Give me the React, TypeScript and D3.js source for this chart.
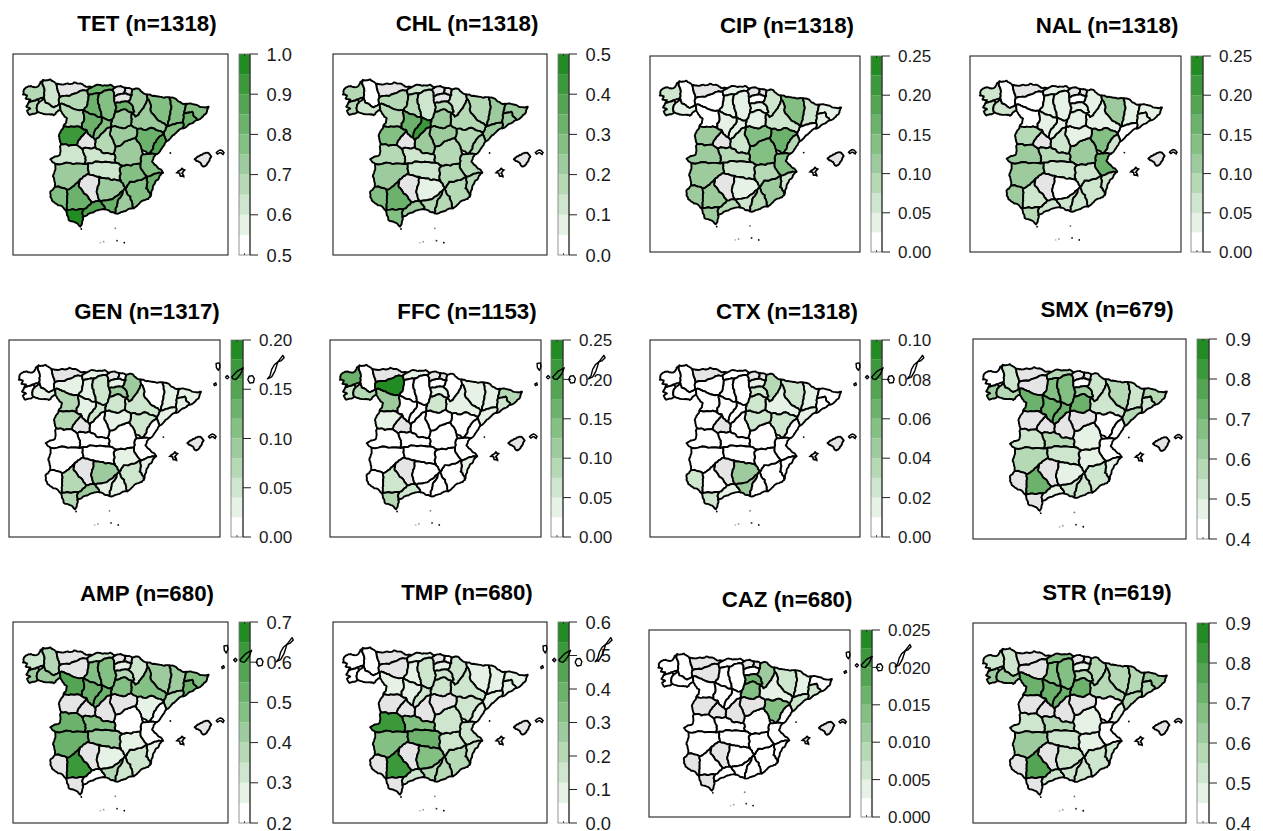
import React from "react";
import * as d3 from "d3";

const PROVINCES: [string, number[][]][] = [
  ["Coruna", [[70,272],[78,262],[92,258],[104,262],[116,256],[120,246],[128,240],[132,265],[130,292],[112,298],[85,308],[90,298],[76,296],[80,286],[68,284]]],
  ["Lugo", [[128,240],[150,238],[168,252],[172,272],[178,292],[178,312],[160,322],[135,308],[130,292],[132,265]]],
  ["Pontevedra", [[85,308],[112,298],[118,305],[110,320],[112,335],[88,345],[80,332],[90,326],[78,320]]],
  ["Ourense", [[110,320],[118,305],[130,292],[135,308],[160,322],[178,312],[180,330],[160,346],[135,343],[112,335]]],
  ["Asturias", [[168,252],[195,252],[222,247],[250,256],[275,262],[262,270],[235,276],[178,292],[172,272]]],
  ["Leon", [[178,292],[235,276],[262,270],[265,285],[262,310],[250,330],[200,318],[178,312]]],
  ["Zamora", [[178,312],[200,318],[250,330],[245,385],[215,380],[190,378],[200,355],[180,330]]],
  ["Cantabria", [[275,262],[300,255],[330,254],[345,262],[336,270],[297,280],[265,285],[262,270]]],
  ["Palencia", [[265,285],[297,280],[293,305],[300,330],[305,352],[270,342],[250,330],[262,310]]],
  ["Burgos", [[297,280],[336,270],[342,290],[345,310],[345,335],[335,360],[305,352],[300,330],[293,305]]],
  ["Bizkaia", [[345,262],[362,258],[375,263],[372,280],[350,285],[342,290],[336,270]]],
  ["Gipuzkoa", [[375,263],[395,268],[395,285],[372,280]]],
  ["Alava", [[342,290],[350,285],[372,280],[395,285],[385,305],[365,305],[345,310]]],
  ["Rioja", [[345,310],[365,305],[385,305],[402,335],[395,340],[370,328],[345,335]]],
  ["Navarra", [[395,268],[410,265],[440,283],[442,297],[432,318],[405,350],[395,340],[402,335],[385,305],[395,285]]],
  ["Huesca", [[440,283],[475,290],[508,292],[510,335],[500,378],[470,358],[450,330],[442,297]]],
  ["Lleida", [[508,292],[535,305],[560,312],[552,340],[548,368],[500,378],[510,335]]],
  ["Girona", [[560,312],[590,315],[625,320],[618,340],[590,360],[575,335],[552,340]]],
  ["Barcelona", [[552,340],[575,335],[590,360],[548,385],[548,368]]],
  ["Tarragona", [[500,378],[548,368],[548,385],[525,400],[510,415],[497,425],[490,400]]],
  ["Zaragoza", [[442,297],[450,330],[470,358],[500,378],[490,400],[460,385],[410,388],[392,375],[395,340],[405,350],[432,318]]],
  ["Teruel", [[410,388],[460,385],[490,400],[462,430],[445,462],[425,450],[405,415]]],
  ["Castellon", [[490,400],[497,425],[470,462],[445,462],[462,430]]],
  ["Valencia", [[428,462],[445,462],[470,462],[455,485],[488,518],[440,530],[420,490]]],
  ["Alicante", [[440,530],[488,518],[465,545],[450,590],[437,565]]],
  ["Murcia", [[440,530],[437,565],[450,590],[435,600],[400,625],[390,590],[375,565],[388,545]]],
  ["Albacete", [[365,497],[420,490],[440,530],[388,545],[375,565],[362,545],[358,510]]],
  ["Cuenca", [[345,440],[385,420],[405,415],[425,450],[428,462],[420,490],[365,497],[345,488],[345,470],[340,462]]],
  ["Guadalajara", [[332,380],[360,383],[392,375],[410,388],[405,415],[385,420],[345,440],[335,415]]],
  ["Madrid", [[285,420],[300,405],[332,380],[335,415],[345,440],[340,462],[310,460],[285,442]]],
  ["Segovia", [[305,352],[335,360],[332,380],[300,405],[285,420],[278,412],[282,395],[300,372]]],
  ["Soria", [[335,360],[345,335],[370,328],[395,340],[392,375],[360,383],[332,380]]],
  ["Valladolid", [[250,330],[270,342],[305,352],[300,372],[282,395],[278,412],[258,390],[245,385]]],
  ["Avila", [[230,435],[258,390],[278,412],[285,420],[285,442],[245,447]]],
  ["Salamanca", [[190,378],[215,380],[245,385],[258,390],[230,435],[182,432],[178,400]]],
  ["Toledo", [[245,447],[285,442],[310,460],[340,462],[345,470],[345,488],[265,490],[250,492],[255,470]]],
  ["Caceres", [[150,478],[178,465],[182,432],[230,435],[245,447],[255,470],[250,492],[165,492]]],
  ["Badajoz", [[165,492],[250,492],[265,490],[265,522],[238,540],[200,570],[165,560],[158,530],[165,510]]],
  ["CiudadReal", [[265,490],[345,488],[365,497],[358,510],[362,545],[320,535],[300,532],[265,522]]],
  ["Cordoba", [[265,522],[300,532],[290,570],[302,605],[275,607],[250,580],[235,555],[238,540]]],
  ["Jaen", [[300,532],[320,535],[362,545],[375,565],[345,590],[302,605],[290,570]]],
  ["Huelva", [[165,560],[200,570],[200,620],[198,632],[165,610],[150,590],[150,575]]],
  ["Sevilla", [[200,570],[238,540],[235,555],[250,580],[275,607],[250,628],[198,632],[200,620]]],
  ["Cadiz", [[198,632],[250,628],[247,652],[240,680],[205,660]]],
  ["Malaga", [[250,628],[275,607],[302,605],[315,628],[282,635],[247,652]]],
  ["Granada", [[302,605],[345,590],[375,565],[352,610],[345,640],[315,628]]],
  ["Almeria", [[375,565],[390,590],[400,625],[380,630],[345,640],[352,610]]],
  ["Baleares", [[583,478],[600,465],[622,458],[633,470],[625,485],[610,500],[595,485]]],
];

const MENORCA = [[648,458],[660,450],[671,458],[668,463],[658,458],[652,462]];
const IBIZA = [[530,518],[545,505],[553,510],[545,520],[550,530],[540,528],[538,520]];
const CANARIES = [
  [[671,234],[681,232],[683,244],[678,255],[672,247]],
  [[664,297],[670,293],[672,299],[666,302]],
  [[700,276],[705,271],[710,276],[705,281]],
  [[719,275],[736,257],[754,247],[746,266],[732,283],[722,281]],
  [[768,283],[772,273],[782,271],[788,280],[785,292],[774,294]],
  [[828,281],[841,275],[851,257],[860,229],[849,238],[841,252],[836,271]],
  [[860,229],[875,209],[879,216],[869,226]],
];
const DOTS: [number, number, string][] = [
  [510,459,"#000"],[243,687,"#000"],[345,685,"#777"],[300,728,"#bbb"],[310,725,"#999"],[350,722,"#222"],[372,728,"#000"],
];

const NA = null;
// Province order follows PROVINCES.
const TET = [.68,.63,.68,.63,NA,.68,.68,.83,.83,.78,NA,NA,NA,.83,.73,.78,.78,.78,.83,.78,.73,.83,.88,.78,.83,.78,.78,.73,.73,.68,.78,.73,.83,NA,.93,.63,.63,.73,.63,NA,.73,.78,.83,.98,.88,.83,.73,NA];
const CHL = [.18,.03,.18,.13,NA,.18,.18,.13,.18,.13,NA,NA,NA,.18,.13,.18,.23,.23,.23,.23,.18,.18,.18,.18,.18,.18,.18,.18,.23,.23,.43,.23,.33,NA,.28,.13,.18,.23,.13,NA,.08,.28,.33,.28,.23,.18,.18,NA];
const CIP = [.062,.012,.062,.037,NA,.012,.012,.037,.037,.037,NA,NA,.012,.037,.062,.137,.062,.037,.037,.012,.062,.162,.087,.137,.062,.112,.087,.137,.137,.062,.037,.037,.037,NA,.112,.087,.112,.112,.062,NA,.037,.112,.112,.112,.087,.062,.087,NA];
const NAL = [.062,.012,.062,.062,NA,.012,.012,.037,.037,.037,NA,NA,.012,.037,.037,.112,.037,.037,.037,.012,.037,.137,.062,.162,.062,.062,.062,.112,.037,.062,.037,.037,.037,NA,.087,.087,.112,.112,.062,NA,.012,.112,.062,.087,.062,.062,.062,NA];
const GEN = [.01,.01,.01,.03,NA,.03,.07,.03,.03,.05,NA,.01,.03,.09,.09,.01,.03,.03,.03,.03,.05,.05,.01,.01,.03,.05,.03,.01,.03,.01,.05,.05,.03,NA,.07,.01,.01,.01,.01,NA,.09,.01,.07,.07,.09,.03,.03,NA];
const FFC = [.162,.012,.062,.087,NA,.237,.112,.037,.012,.012,NA,NA,.012,.037,.012,.037,.037,.087,.062,.037,.037,.012,.012,.012,.037,.012,.012,.012,.012,.012,.012,.062,.012,NA,.037,.012,.012,.012,.012,NA,.012,.012,.062,.087,.062,.012,.012,NA];
const CTX = [.005,.005,.005,.005,NA,.005,.005,.005,.005,.005,NA,NA,.015,.025,.035,.025,.015,.005,.005,.015,.015,.025,.005,.005,.005,.005,.005,.005,.025,.005,.005,.025,.005,NA,.005,.005,.005,.005,.005,NA,.045,.025,.005,.025,.015,.045,.005,NA];
const SMX = [.43,.53,.63,.58,NA,NA,.73,.58,.68,.68,NA,NA,.43,.63,.53,.58,.53,.58,.53,.58,.53,.43,.43,.43,.48,.53,.48,.48,NA,NA,.73,.73,.73,NA,NA,.58,.53,.58,.53,NA,.48,NA,.73,NA,.48,.53,.53,NA];
const AMP = [.33,.38,.43,.43,NA,NA,.58,.33,.48,.48,NA,NA,.28,.38,.33,.43,.43,.48,.53,.38,.48,.28,.23,.23,.28,.33,.28,.23,NA,NA,.53,.48,.53,NA,NA,.48,.53,.53,.43,NA,.28,NA,.63,NA,.23,.38,.33,NA];
const TMP = [.03,.03,.03,.03,NA,NA,.09,.09,.09,.15,NA,.03,.09,.15,.15,.09,.09,.09,.09,.09,.15,.15,.09,.15,.15,.21,.15,.15,NA,NA,.15,.15,.09,NA,NA,.33,.51,.33,.39,NA,.33,NA,.51,NA,.15,.21,.21,NA];
const CAZ = [.001,.001,.001,.001,NA,NA,.001,.001,.001,.001,NA,NA,.001,.016,.011,.006,.004,.001,.006,.006,.004,.014,.001,.001,.001,.001,.001,.001,NA,NA,.001,.014,.001,NA,NA,.001,.001,.001,.001,NA,.001,NA,.001,NA,.001,.001,.001,NA];
const STR = [.53,.53,.63,.63,NA,NA,.73,.68,.68,.68,NA,.48,.48,.58,.58,.58,.58,.63,.58,.58,.58,.43,.48,.43,.53,.53,.48,.48,NA,NA,.73,.73,.73,NA,NA,.58,.53,.63,.53,NA,.53,NA,.78,NA,.53,.53,.53,NA];

const NAMES = ["TET","CHL","CIP","NAL","GEN","FFC","CTX","SMX","AMP","TMP","CAZ","STR"];
const COUNTS = [1318,1318,1318,1318,1317,1153,1318,679,680,680,680,619];
const VALUES = [TET,CHL,CIP,NAL,GEN,FFC,CTX,SMX,AMP,TMP,CAZ,STR];
const RANGES = [[.5,1],[0,.5],[0,.25],[0,.25],[0,.2],[0,.25],[0,.1],[.4,.9],[.2,.7],[0,.6],[0,.025],[.4,.9]];
const TICKS = [
  [.5,.6,.7,.8,.9,1],[0,.1,.2,.3,.4,.5],[0,.05,.1,.15,.2,.25],[0,.05,.1,.15,.2,.25],
  [0,.05,.1,.15,.2],[0,.05,.1,.15,.2,.25],[0,.02,.04,.06,.08,.1],[.4,.5,.6,.7,.8,.9],
  [.2,.3,.4,.5,.6,.7],[0,.1,.2,.3,.4,.5,.6],[0,.005,.01,.015,.02,.025],[.4,.5,.6,.7,.8,.9],
];
const TICK_FORMATS = [".1f",".1f",".2f",".2f",".2f",".2f",".2f",".1f",".1f",".1f",".3f",".1f"];
const SHOW_CANARIES = [false,false,false,false,true,true,true,false,true,true,true,false];

// Layout: [box left, box right, box top, box bottom, bar left, bar right, title centre x, title baseline]
const LAYOUT = [
  [13,228,54,255,239,250,147,31],[333,547,54,255,558,569,467,31],[650,860,56,252,871,882,787,33],[970,1181,56,252,1191,1203,1107,33],
  [9,220,340,537,231,243,147,319],[330,541,340,537,551,563,467,319],[650,860,340,537,871,882,787,319],[973,1186,339,539,1197,1209,1107,317],
  [13,228,622,823,239,250,147,601],[333,547,622,823,558,569,467,600],[649,850,630,817,861,872,787,607],[973,1186,623,823,1197,1209,1107,600],
];

const MAP_X = [38, 683];
const MAP_Y = [162, 765];
const LEVELS = 10;
const PALETTE = d3.quantize(d3.interpolateRgb("white", "#228B22"), LEVELS);
const FONT = "'Liberation Sans', Arial, sans-serif";

// Roughen a border in the same way from both sides, so shared edges stay shared.
function rough(a: number[], b: number[], depth: number): number[][] {
  const flip = a[0] > b[0] || (a[0] === b[0] && a[1] > b[1]);
  const p = flip ? b : a;
  const q = flip ? a : b;
  const dx = q[0] - p[0];
  const dy = q[1] - p[1];
  const len = Math.hypot(dx, dy);
  if (depth === 0 || len < 5) return [a];
  const h = Math.sin(p[0] * 12.9898 + p[1] * 78.233 + q[0] * 37.719 + q[1] * 4.581) * 43758.5453;
  const t = (h - Math.floor(h)) * 2 - 1;
  const amp = Math.min(len * 0.14, 4.5) * t;
  const m = [(p[0] + q[0]) / 2 - (dy / len) * amp, (p[1] + q[1]) / 2 + (dx / len) * amp];
  return [...rough(a, m, depth - 1), ...rough(m, b, depth - 1)];
}
const roughRing = (r: number[][]) => r.flatMap((pt, i) => rough(pt, r[(i + 1) % r.length], 3));

function Panel({ index }: { index: number }) {
  const [x0, x1, y0, y1, bx0, bx1, tx, ty] = LAYOUT[index];
  const [lo, hi] = RANGES[index];
  const values = VALUES[index];
  const color = d3.scaleQuantize<string>().domain([lo, hi]).range(PALETTE);
  const sx = d3.scaleLinear().domain(MAP_X).range([x0, x1]);
  const sy = d3.scaleLinear().domain(MAP_Y).range([y0, y1]);
  const barY = d3.scaleLinear().domain([lo, hi]).range([y1, y0]);
  const path = d3.geoPath(
    d3.geoTransform({
      point(x: number, y: number) {
        (this as any).stream.point(sx(x), sy(y));
      },
    })
  );
  const poly = (r: number[][]) => path({ type: "Polygon", coordinates: [[...r, r[0]]] } as any) || "";
  const fmt = d3.format(TICK_FORMATS[index]);
  const oneDecimal = TICK_FORMATS[index] === ".1f";
  const fs = oneDecimal ? 18.3 : 17;
  const labelGap = oneDecimal ? 16.5 : 16;
  const bandH = (hi - lo) / LEVELS;
  const midX = (bx0 + bx1) / 2;
  return (
    <g>
      <text x={tx} y={ty} textAnchor="middle" fontFamily={FONT} fontWeight="bold" fontSize={22.3} fill="#000">
        {`${NAMES[index]} (n=${COUNTS[index]})`}
      </text>
      <rect x={x0} y={y0} width={x1 - x0} height={y1 - y0} fill="none" stroke="#222" strokeWidth={1.1} />
      {PROVINCES.map(([name, ring], i) => (
        <path key={name} d={poly(roughRing(ring))} fill={values[i] == null ? "#E5E5E5" : color(values[i] as number)}
          stroke="#000" strokeWidth={1.9} strokeLinejoin="round" />
      ))}
      <path d={poly(roughRing(MENORCA))} fill="#fff" stroke="#000" strokeWidth={1.5} />
      <path d={poly(roughRing(IBIZA))} fill="#fff" stroke="#000" strokeWidth={1.7} />
      {DOTS.map(([x, y, c], i) => (
        <circle key={i} cx={sx(x)} cy={sy(y)} r={0.9} fill={c} />
      ))}
      {PALETTE.map((c, i) => (
        <rect key={c} x={bx0} width={bx1 - bx0} y={barY(lo + (i + 1) * bandH)} height={barY(lo + i * bandH) - barY(lo + (i + 1) * bandH)} fill={c} />
      ))}
      <rect x={bx0} y={y0} width={bx1 - bx0} height={y1 - y0} fill="none" stroke="#777" strokeWidth={0.8} />
      <line x1={bx1} x2={bx1} y1={y0} y2={y1} stroke="#222" strokeWidth={1.1} />
      <line x1={midX} x2={midX} y1={y1 - 2} y2={y1} stroke="#222" strokeWidth={0.8} />
      <line x1={midX} x2={midX} y1={y0} y2={y0 + 2} stroke="#222" strokeWidth={0.8} />
      {TICKS[index].map((t) => (
        <g key={t}>
          <line x1={bx1} x2={bx1 + 8} y1={barY(t)} y2={barY(t)} stroke="#222" strokeWidth={1} />
          <text x={bx1 + labelGap} y={barY(t) + fs * 0.36} fontFamily={FONT} fontSize={fs} fill="#1a1a1a">{fmt(t)}</text>
        </g>
      ))}
      {SHOW_CANARIES[index] &&
        CANARIES.map((r, i) => <path key={i} d={poly(r)} fill="none" stroke="#000" strokeWidth={1.4} strokeLinejoin="round" />)}
    </g>
  );
}

export default function App() {
  return (
    <svg width={1263} height={831} viewBox="0 0 1263 831" style={{ position: "absolute", left: 0, top: 0, background: "#fff" }}>
      {NAMES.map((n, i) => (
        <Panel key={n} index={i} />
      ))}
    </svg>
  );
}
